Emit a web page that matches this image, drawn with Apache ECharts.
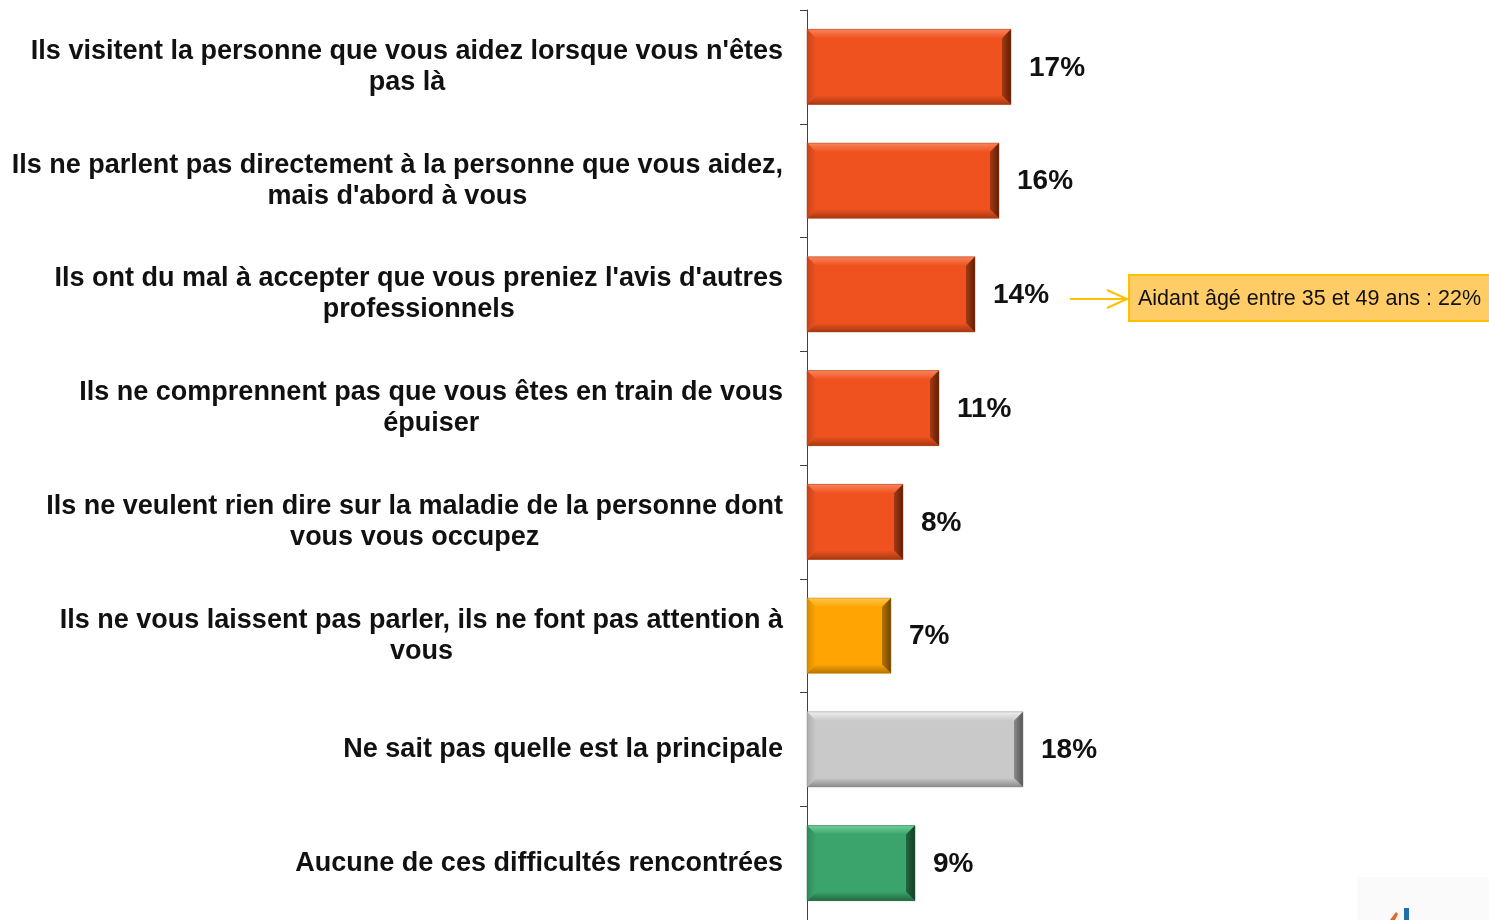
<!DOCTYPE html>
<html>
<head>
<meta charset="utf-8">
<script src="https://cdn.jsdelivr.net/npm/echarts@6/dist/echarts.min.js"></script>
<style>
html,body{margin:0;padding:0;background:#fff;}
#chart{width:1489px;height:920px;}
</style>
</head>
<body>
<div id="chart"></div>
<script>
var categories = [
  ["Ils visitent la personne que vous aidez lorsque vous n'êtes", "pas là"],
  ["Ils ne parlent pas directement à la personne que vous aidez,", "mais d'abord à vous"],
  ["Ils ont du mal à accepter que vous preniez l'avis d'autres", "professionnels"],
  ["Ils ne comprennent pas que vous êtes en train de vous", "épuiser"],
  ["Ils ne veulent rien dire sur la maladie de la personne dont", "vous vous occupez"],
  ["Ils ne vous laissent pas parler, ils ne font pas attention à", "vous"],
  ["Ne sait pas quelle est la principale"],
  ["Aucune de ces difficultés rencontrées"]
];
var values = [17, 16, 14, 11, 8, 7, 18, 9];
var colorGroup = ["orange","orange","orange","orange","orange","amber","gray","green"];
var annotationText = "Aidant âgé entre 35 et 49 ans : 22%";

var palettes = {
  orange: {main:"#EF521F", top:"#F8855C", bottom:"#A63A12", right:"#5E1F08", left:"#C8441A"},
  amber:  {main:"#FFA402", top:"#FFC64E", bottom:"#B57500", right:"#6B4500", left:"#D98C00"},
  gray:   {main:"#C9C9C9", top:"#EFEFEF", bottom:"#8A8A8A", right:"#555555", left:"#AFAFAF"},
  green:  {main:"#3BA46D", top:"#6FCE99", bottom:"#23683F", right:"#123D24", left:"#2F8A5A"}
};

var catNames = categories.map(function(c){ return c.join("\n"); });
var seriesData = catNames.map(function(n, i){ return [n, values[i]]; });

var FONT = 'Liberation Sans, Arial, sans-serif';
var chart = echarts.init(document.getElementById('chart'));
chart.setOption({
  animation: false,
  grid: {left: 807, top: 10, width: 240, height: 914, containLabel: false},
  xAxis: {type: 'value', min: 0, max: 20, show: false},
  yAxis: {
    type: 'category', inverse: true, data: catNames,
    axisLine: {show: true, lineStyle: {color: '#404040', width: 1}},
    axisTick: {show: true, length: 7, lineStyle: {color: '#404040'}},
    axisLabel: {
      margin: 24,
      formatter: function(v){
        return v.split("\n").map(function(l){ return "{c|" + l + "}"; }).join("\n");
      },
      rich: {
        c: {align: 'center', fontFamily: FONT, fontWeight: 'bold', fontSize: 27, lineHeight: 31, color: '#111'}
      }
    }
  },
  series: [{
    type: 'custom',
    encode: {x: 1, y: 0},
    data: seriesData,
    renderItem: function(params, api){
      var v = api.value(1);
      var idx = api.value(0);
      var s = api.coord([0, idx]);
      var e = api.coord([v, idx]);
      var h = api.size([0, 1])[1] * 0.66;
      var x0 = s[0], x1 = e[0], yc = s[1];
      var y0 = yc - h/2, y1 = yc + h/2;
      var b = 9;
      var p = palettes[colorGroup[params.dataIndex]];
      return {type: 'group', children: [
        {type: 'rect', shape: {x: x0, y: y0, width: x1 - x0, height: h}, style: {fill: p.main}},
        {type: 'polygon', shape: {points: [[x0,y0],[x1,y0],[x1-b,y0+b],[x0+b,y0+b]]},
          style: {fill: new echarts.graphic.LinearGradient(0,0,0,1,[{offset:0,color:p.top},{offset:1,color:p.main}])}},
        {type: 'polygon', shape: {points: [[x0,y1],[x1,y1],[x1-b,y1-b],[x0+b,y1-b]]},
          style: {fill: new echarts.graphic.LinearGradient(0,0,0,1,[{offset:0,color:p.main},{offset:1,color:p.bottom}])}},
        {type: 'polygon', shape: {points: [[x1,y0],[x1,y1],[x1-b,y1-b],[x1-b,y0+b]]},
          style: {fill: new echarts.graphic.LinearGradient(0,0,1,0,[{offset:0,color:p.bottom},{offset:1,color:p.right}])}},
        {type: 'polygon', shape: {points: [[x0,y0],[x0+b,y0+b],[x0+b,y1-b],[x0,y1]]},
          style: {fill: new echarts.graphic.LinearGradient(0,0,1,0,[{offset:0,color:p.left},{offset:1,color:p.main}])}},
        {type: 'rect', shape: {x: x0, y: y0, width: x1 - x0, height: h}, style: {fill: 'none', stroke: p.bottom, lineWidth: 0.8, opacity: 0.6}},
        {type: 'text', x: x1 + 18, y: yc + 1, style: {text: v + '%', fontFamily: FONT, fontWeight: 'bold', fontSize: 28, fill: '#111', verticalAlign: 'middle', align: 'left'}}
      ]};
    }
  }],
  graphic: [
    {type: 'line', shape: {x1: 1070, y1: 299, x2: 1126, y2: 299}, style: {stroke: '#FFC000', lineWidth: 2}},
    {type: 'polyline', shape: {points: [[1107,290],[1127,299],[1107,308]]}, style: {stroke: '#FFC000', lineWidth: 2, fill: 'none'}},
    {type: 'rect', shape: {x: 1129, y: 275, width: 365, height: 46}, style: {fill: '#FFCC66', stroke: '#FFC000', lineWidth: 2}},
    {type: 'text', x: 1138, y: 299, style: {text: annotationText, fontFamily: FONT, fontSize: 21.5, fill: '#111', verticalAlign: 'middle'}},
    {type: 'rect', shape: {x: 1357, y: 877, width: 140, height: 50}, style: {fill: '#FAFAFA'}},
    {type: 'rect', shape: {x: 1404, y: 908, width: 5, height: 14}, style: {fill: '#1F6FA8'}},
    {type: 'polygon', shape: {points: [[1390,920],[1396,912],[1398,914],[1395,920]]}, style: {fill: '#E2652A'}}
  ]
});
</script>
</body>
</html>
